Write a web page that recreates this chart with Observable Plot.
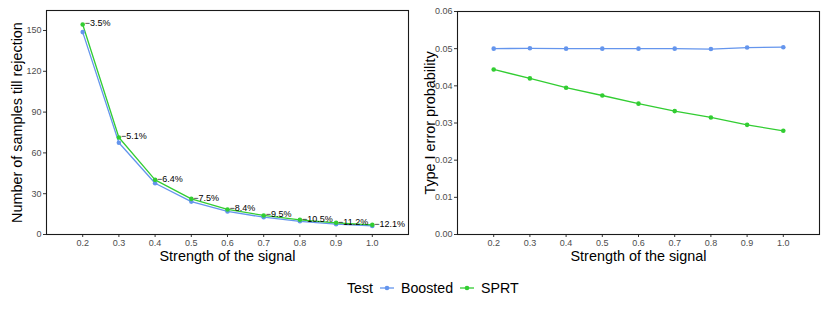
<!DOCTYPE html>
<html><head><meta charset="utf-8">
<script src="https://cdn.jsdelivr.net/npm/d3@7"></script>
<script src="https://cdn.jsdelivr.net/npm/@observablehq/plot@0.6"></script>
<style>
body{margin:0;background:#fff;font-family:"Liberation Sans",Arial,sans-serif;}
#wrap{width:830px;height:312px;position:relative;overflow:hidden}
#charts{display:flex;position:absolute;left:0;top:0}
#legend{position:absolute;top:278px;left:0;width:830px;height:20px;font-size:14.2px;color:#000}
#legend span{position:absolute;top:0;line-height:20px;white-space:nowrap}
#legend svg{position:absolute;top:3px}
</style></head><body>
<div id="wrap"><div id="charts"></div><div id="legend"></div></div>
<script>
const strength = [0.2, 0.3, 0.4, 0.5, 0.6, 0.7, 0.8, 0.9, 1.0];
const samplesBoosted = [148.8, 67.5, 37.7, 24.2, 17.0, 12.7, 9.7, 7.6, 6.3];
const samplesSPRT = [154.4, 71.3, 40.2, 26.2, 18.4, 14.0, 10.8, 8.6, 7.1];
const reductionLabels = ["−3.5%", "−5.1%", "−6.4%", "−7.5%", "−8.4%", "−9.5%", "−10.5%", "−11.2%", "−12.1%"];
const errorBoosted = [0.0500, 0.0501, 0.0500, 0.0500, 0.0500, 0.0500, 0.0499, 0.0503, 0.0504];
const errorSPRT = [0.0444, 0.0420, 0.0395, 0.0374, 0.0352, 0.0332, 0.0315, 0.0295, 0.0279];
const tests = ["Boosted", "SPRT"];
const colors = ["#6495ED", "#32CD32"];
const samplesTicks = [0, 30, 60, 90, 120, 150];
const errorTicks = [0, 0.01, 0.02, 0.03, 0.04, 0.05, 0.06];

const FONT = '"Liberation Sans", Arial, sans-serif';

function longData(a, b) {
  const rows = [];
  strength.forEach((s, i) => rows.push({x: s, y: a[i], test: tests[0], i}));
  strength.forEach((s, i) => rows.push({x: s, y: b[i], test: tests[1], i}));
  return rows;
}

function panel({data, yDomain, yTicks, yFormat, yLabel, marginLeft, marginRight, marginTop, labelDx, extra}) {
  return Plot.plot({
    width: 415, height: 270,
    marginLeft, marginRight, marginTop, marginBottom: 36,
    style: {fontFamily: FONT, fontSize: "9px", color: "#4d4d4d", background: "white", overflow: "visible"},
    x: {domain: [0.1, 1.1]},
    y: {domain: yDomain},
    color: {domain: tests, range: colors},
    marks: [
      Plot.axisX({ticks: strength, tickFormat: d3.format(".1f"), tickSize: 3, tickPadding: 2, stroke: "#333", label: null, fill: "#4d4d4d"}),
      Plot.axisY({ticks: yTicks, tickFormat: yFormat, tickSize: 3, tickPadding: 2, stroke: "#333", label: null, fill: "#4d4d4d"}),
      Plot.line(data, {x: "x", y: "y", z: "test", stroke: "test", strokeWidth: 1.3}),
      Plot.dot(data, {x: "x", y: "y", fill: "test", r: 2.3}),
      ...(extra || []),
      Plot.frame({stroke: "#1a1a1a", strokeWidth: 1.1}),
      Plot.text(["Strength of the signal"], {text: d => d, frameAnchor: "bottom", textAnchor: "middle", lineAnchor: "middle", dy: 22, fontSize: 14.4, fill: "black"}),
      Plot.text([yLabel], {text: d => d, frameAnchor: "left", textAnchor: "middle", lineAnchor: "middle", rotate: -90, dx: labelDx, fontSize: 14.4, fill: "black"})
    ]
  });
}

const left = panel({
  data: longData(samplesBoosted, samplesSPRT),
  yDomain: [0, 164.7], yTicks: samplesTicks, yFormat: d3.format("d"),
  yLabel: "Number of samples till rejection",
  marginLeft: 46, marginRight: 7, marginTop: 10, labelDx: -29,
  extra: [
    Plot.text(strength.map((s, i) => ({x: s, y: samplesSPRT[i], t: reductionLabels[i]})),
      {x: "x", y: "y", text: "t", textAnchor: "start", dx: 2, dy: -1, fontSize: 9, fill: "black"})
  ]
});

const right = panel({
  data: longData(errorBoosted, errorSPRT),
  yDomain: [0, 0.06], yTicks: errorTicks, yFormat: d3.format(".2f"),
  yLabel: "Type I error probability",
  marginLeft: 42, marginRight: 11, marginTop: 11, labelDx: -27
});

document.getElementById("charts").append(left, right);

// legend
const legend = document.getElementById("legend");
function addSpan(text, x) {
  const s = document.createElement("span");
  s.textContent = text; s.style.left = x + "px";
  legend.append(s);
}
function addKey(color, x) {
  const svg = d3.create("svg").attr("width", 16).attr("height", 14).style("left", x + "px");
  svg.append("line").attr("x1", 1).attr("x2", 15).attr("y1", 7).attr("y2", 7).attr("stroke", color).attr("stroke-width", 1.3);
  svg.append("circle").attr("cx", 8).attr("cy", 7).attr("r", 2.3).attr("fill", color);
  legend.append(svg.node());
}
addSpan("Test", 347);
addKey(colors[0], 379);
addSpan(tests[0], 401);
addKey(colors[1], 459);
addSpan(tests[1], 481);
</script>
</body></html>
